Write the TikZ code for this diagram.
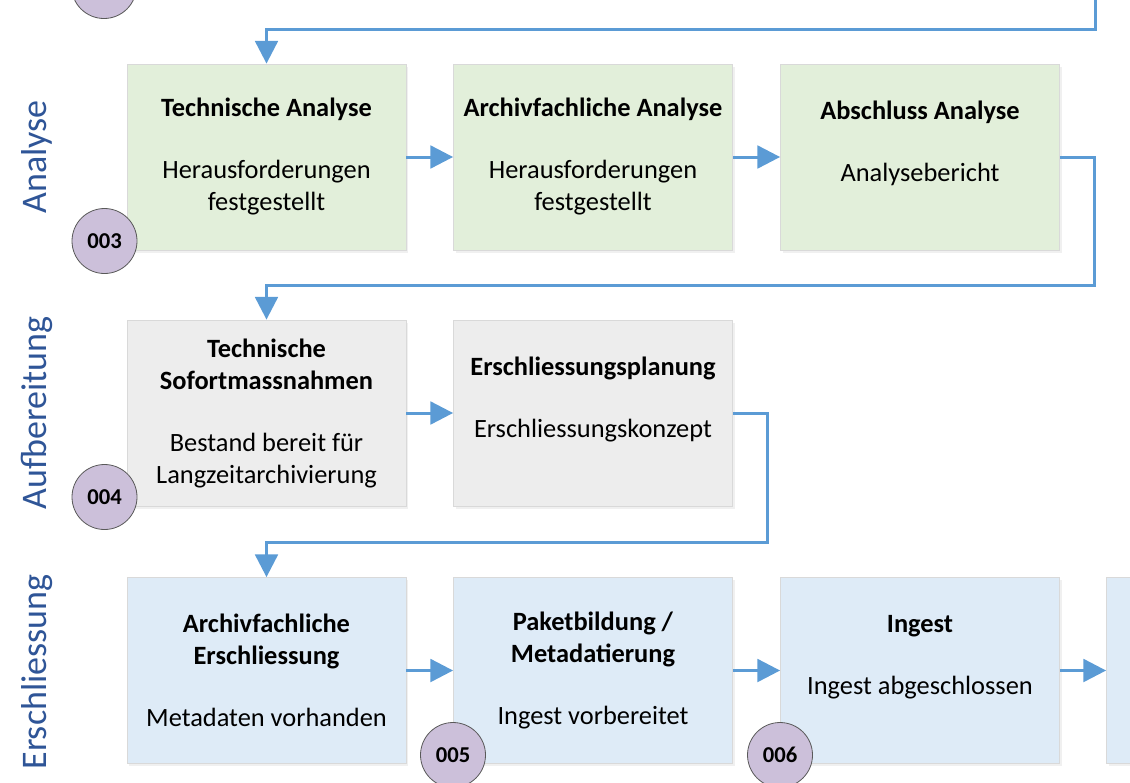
\documentclass[tikz,border=0pt]{standalone}
\usepackage{fontspec}
\setmainfont{Carlito}
\usetikzlibrary{arrows.meta,shadows}
\definecolor{linie}{RGB}{91,155,213}
\definecolor{gruen}{RGB}{226,239,218}
\definecolor{grau}{RGB}{237,237,237}
\definecolor{blau}{RGB}{222,235,247}
\definecolor{lila}{RGB}{204,192,218}
\definecolor{titel}{RGB}{47,85,151}

\begin{document}
\begin{tikzpicture}[x=0.75pt,y=-0.75pt]
    \tikzstyle{every node}=[font=\fontsize{19.8}{24}\selectfont]
    \tikzstyle{schritt}=[draw=black!15, line width=0.6pt, minimum width=209.25pt, minimum height=139.5pt,
        align=center, inner sep=0pt, drop shadow={opacity=0.12, shadow xshift=1.5pt, shadow yshift=-2pt}]
    \tikzstyle{nummer}=[circle, draw=black!65, line width=0.6pt, fill=lila, minimum size=48.75pt,
        inner sep=0pt, font=\fontsize{17}{18}\selectfont\bfseries]
    \tikzstyle{phase}=[rotate=90, text=titel, font=\fontsize{27}{30}\selectfont]
    \tikzstyle{fluss}=[draw=linie, line width=2.25pt, -{Triangle[length=17pt,width=17pt]}]

    \useasboundingbox (0,0) rectangle (1130,782);
    \clip (0,0) rectangle (1130,782);

    % phases
    \node[phase] (p1) at (37,157) {Analyse};
    \node[phase] (p2) at (37,413) {Aufbereitung};
    \node[phase] (p3) at (37,672) {Erschliessung};

    % analyse
    \node[schritt, fill=gruen] (g1) at (266.5,157) {\textbf{Technische Analyse}\\[22.5pt]Herausforderungen\\festgestellt};
    \node[schritt, fill=gruen] (g2) at (593,157) {\textbf{Archivfachliche Analyse}\\[22.5pt]Herausforderungen\\festgestellt};
    \node[schritt, fill=gruen] (g3) at (920,157) {\textbf{Abschluss Analyse}\\[22.5pt]Analysebericht\\ \mbox{}};

    % aufbereitung
    \node[schritt, fill=grau] (a1) at (266.5,413) {\textbf{Technische}\\\textbf{Sofortmassnahmen}\\[22.5pt]Bestand bereit für\\Langzeitarchivierung};
    \node[schritt, fill=grau] (a2) at (593,413) {\textbf{Erschliessungsplanung}\\[22.5pt]Erschliessungskonzept\\ \mbox{}};

    % erschliessung
    \node[schritt, fill=blau] (e1) at (266.5,670.5) {\textbf{Archivfachliche}\\\textbf{Erschliessung}\\[22.5pt]Metadaten vorhanden};
    \node[schritt, fill=blau] (e2) at (593,670.5) {\textbf{Paketbildung /}\\\textbf{Metadatierung}\\[22.5pt]Ingest vorbereitet};
    \node[schritt, fill=blau] (e3) at (920,670.5) {\textbf{Ingest}\\[22.5pt]Ingest abgeschlossen\\ \mbox{}};
    \node[schritt, fill=blau] (e4) at (1246,670.5) {};

    % numbers
    \node[nummer] (n2) at (104,-14) {};
    \node[nummer] (n3) at (104.5,241) {003};
    \node[nummer] (n4) at (104.5,497) {004};
    \node[nummer] (n5) at (453,755) {005};
    \node[nummer] (n6) at (780,755) {006};

    % connectors
    \coordinate (oben) at (1095,-10);
    \draw[fluss] (oben) -- ++(0,39) -| (g1.north);
    \draw[fluss] (g1.east) -- (g2.west);
    \draw[fluss] (g2.east) -- (g3.west);
    \draw[fluss] (g3.east) -- ++(35,0) -- ++(0,128) -| (a1.north);
    \draw[fluss] (a1.east) -- (a2.west);
    \draw[fluss] (a2.east) -- ++(35,0) -- ++(0,129) -| (e1.north);
    \draw[fluss] (e1.east) -- (e2.west);
    \draw[fluss] (e2.east) -- (e3.west);
    \draw[fluss] (e3.east) -- (e4.west);
\end{tikzpicture}
\end{document}
